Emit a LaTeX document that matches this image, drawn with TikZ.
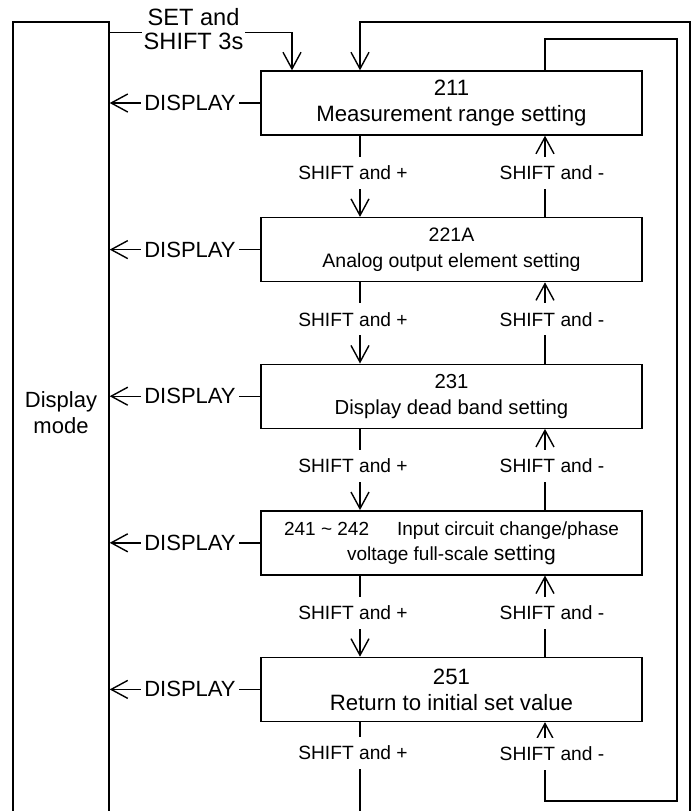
\documentclass[tikz,border=0pt]{standalone}
\usepackage{fontspec}
\setmainfont{Liberation Sans}
\usepackage{tikz}
\usetikzlibrary{positioning}
\usetikzlibrary{arrows.meta}

\begin{document}
\begin{tikzpicture}[x=0.5pt, y=-0.5pt,
    setbox/.style={rectangle, draw=black, line width=0.7pt, minimum width=190.5pt, minimum height=32pt, inner sep=0pt, align=center},
    modebox/.style={rectangle, draw=black, line width=0.7pt, minimum width=48pt, minimum height=439pt, inner sep=0pt},
    keytext/.style={fill=white, inner xsep=1pt, inner ysep=4.5pt, font=\fontsize{9.6}{11}\selectfont},
    disptext/.style={fill=white, inner xsep=1.5pt, inner ysep=1pt, font=\fontsize{11}{12}\selectfont},
    link/.style={line width=0.7pt, -{Straight Barb[length=8.3pt, width=9pt]}},
    plain/.style={line width=0.7pt}]
    \useasboundingbox (0,0) rectangle (696,811);

    %Nodes
    \node[modebox] (modebox) at (61,461) {};
    \node[align=center, font=\fontsize{11}{13}\selectfont] (modetext) at (61,413) {Display\\mode};

    % Setting boxes
    \node[setbox, font=\fontsize{11.1}{13}\selectfont] (box1) at (451.5,103) {211\\Measurement range setting};
    \node[setbox, font=\fontsize{9.75}{13}\selectfont] (box2) [below=40.6pt of box1] {221A\\Analog output element setting};
    \node[setbox, font=\fontsize{10.15}{13}\selectfont] (box3) [below=40.6pt of box2] {231\\Display dead band setting};
    \node[setbox, font=\fontsize{9.5}{12.5}\selectfont] (box4) [below=40.6pt of box3] {241 \textasciitilde\ 242\hspace{14pt}Input circuit change/phase\\voltage full-scale {\fontsize{10.5}{12.5}\selectfont setting}};
    \node[setbox, font=\fontsize{11.1}{13}\selectfont] (box5) [below=40.6pt of box4] {251\\Return to initial set value};

    % Loop ends
    \coordinate (outertop) at (690,22);
    \coordinate (outerbot) at (690,830);
    \coordinate (innertop) at (677,39);
    \coordinate (innerbot) at (677,801);
    \coordinate (exitbot) at ([xshift=-45.75pt, yshift=-50pt]box5.south);

    % Entry from display mode
    \draw[link] ([yshift=-5.5pt]modebox.north east) -| node[pos=0.23, yshift=1.5pt, fill=white, inner xsep=1pt, inner ysep=1pt, align=center, font=\fontsize{11.8}{12}\selectfont] {SET and\\SHIFT 3s} ([xshift=-79.75pt]box1.north);
    \draw[link] (outerbot) -- (outertop) -| ([xshift=-45.75pt]box1.north);

    % DISPLAY
    \draw[link] (box1.west) -- node[disptext, xshift=2.5pt] {DISPLAY} (box1.west -| modebox.east);
    \draw[link] (box2.west) -- node[disptext, xshift=2.5pt] {DISPLAY} (box2.west -| modebox.east);
    \draw[link] (box3.west) -- node[disptext, xshift=2.5pt] {DISPLAY} (box3.west -| modebox.east);
    \draw[link] (box4.west) -- node[disptext, xshift=2.5pt] {DISPLAY} (box4.west -| modebox.east);
    \draw[link] (box5.west) -- node[disptext, xshift=2.5pt] {DISPLAY} (box5.west -| modebox.east);

    % SHIFT and +
    \draw[link] ([xshift=-45.75pt]box1.south) -- node[keytext, xshift=-3.5pt, yshift=1.75pt] {SHIFT and +} ([xshift=-45.75pt]box2.north);
    \draw[link] ([xshift=-45.75pt]box2.south) -- node[keytext, xshift=-3.5pt, yshift=1.75pt] {SHIFT and +} ([xshift=-45.75pt]box3.north);
    \draw[link] ([xshift=-45.75pt]box3.south) -- node[keytext, xshift=-3.5pt, yshift=1.75pt] {SHIFT and +} ([xshift=-45.75pt]box4.north);
    \draw[link] ([xshift=-45.75pt]box4.south) -- node[keytext, xshift=-3.5pt, yshift=1.75pt] {SHIFT and +} ([xshift=-45.75pt]box5.north);
    \draw[plain] ([xshift=-45.75pt]box5.south) -- node[keytext, pos=0.34, xshift=-3.5pt, yshift=1.5pt] {SHIFT and +} (exitbot);

    % SHIFT and -
    \draw[link] ([xshift=46.75pt]box2.north) -- node[keytext, xshift=3.5pt, yshift=1.75pt] {SHIFT and -} ([xshift=46.75pt]box1.south);
    \draw[link] ([xshift=46.75pt]box3.north) -- node[keytext, xshift=3.5pt, yshift=1.75pt] {SHIFT and -} ([xshift=46.75pt]box2.south);
    \draw[link] ([xshift=46.75pt]box4.north) -- node[keytext, xshift=3.5pt, yshift=1.75pt] {SHIFT and -} ([xshift=46.75pt]box3.south);
    \draw[link] ([xshift=46.75pt]box5.north) -- node[keytext, xshift=3.5pt, yshift=1.75pt] {SHIFT and -} ([xshift=46.75pt]box4.south);
    \draw[link] ([xshift=46.75pt]box1.north) |- (innertop) -- (innerbot) -| node[keytext, pos=0.75, xshift=3.5pt, yshift=3.75pt] {SHIFT and -} ([xshift=46.75pt]box5.south);

\end{tikzpicture}
\end{document}
